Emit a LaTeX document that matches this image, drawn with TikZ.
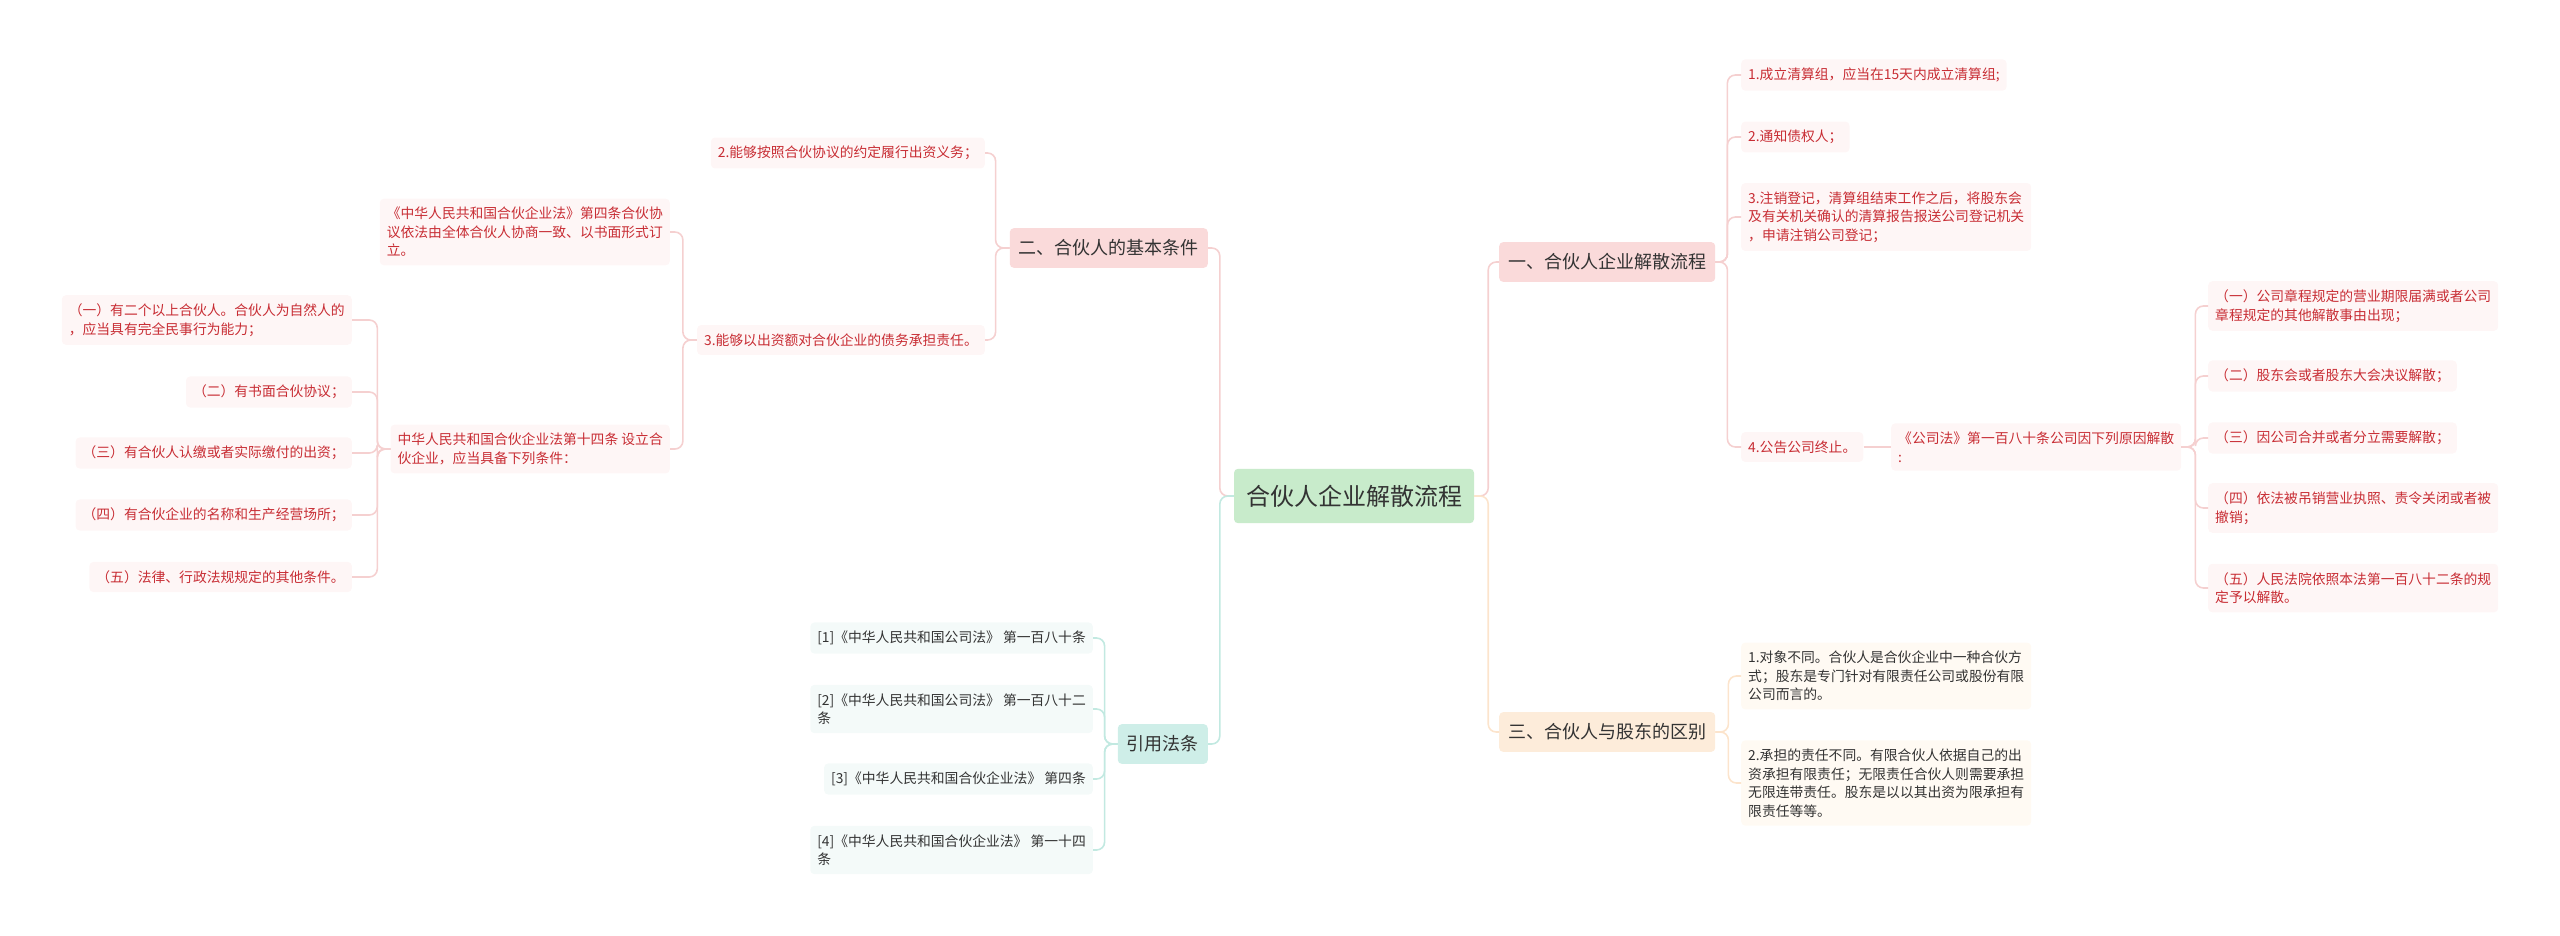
\documentclass[tikz,border=0pt]{standalone}
\usepackage{fontspec}
\setmainfont{Noto Sans CJK SC}
\usepackage{xcolor}
\usepackage{tikz}
\definecolor{rootgreen}{RGB}{200,235,203}
\definecolor{topicpink}{RGB}{250,218,218}
\definecolor{topicpeach}{RGB}{253,236,218}
\definecolor{topicmint}{RGB}{206,238,232}
\definecolor{faintpink}{RGB}{254,246,246}
\definecolor{faintpeach}{RGB}{255,250,243}
\definecolor{faintmint}{RGB}{244,250,249}
\definecolor{linkpink}{RGB}{245,208,208}
\definecolor{linkpeach}{RGB}{252,228,204}
\definecolor{linkmint}{RGB}{194,233,225}
\definecolor{textred}{RGB}{200,45,52}
\definecolor{textdark}{RGB}{51,51,51}
\newcommand{\leaffont}{\fontsize{13.8}{18.5}\selectfont}

\begin{document}
\begin{tikzpicture}[
      x=1pt, y=-1pt,
      root/.style={rounded corners=4pt, fill=rootgreen, text=textdark, inner xsep=12pt, inner ysep=16pt, font=\fontsize{24}{28}\selectfont},
      topic/.style={rounded corners=4pt, text=textdark, inner xsep=9pt, inner ysep=11.5pt, font=\fontsize{18}{22}\selectfont},
      leaf/.style={rounded corners=4pt, align=left, inner xsep=7pt, inner ysep=8.5pt, font=\leaffont},
      redleaf/.style={leaf, fill=faintpink, text=textred},
      peachleaf/.style={leaf, fill=faintpeach, text=textdark},
      mintleaf/.style={leaf, fill=faintmint, text=textdark},
      link/.style={line width=1.6pt, rounded corners=8pt},
      linkp/.style={link, draw=linkpink},
      linko/.style={link, draw=linkpeach},
      linkm/.style={link, draw=linkmint}
    ]
      \useasboundingbox (0,0) rectangle (2560,935);

      % centre and main topics
      \node[root] (root) at (1354,496) {合伙人企业解散流程};
      \node[topic, fill=topicpink, anchor=west] (one) at (1499,262) {一、合伙人企业解散流程};
      \node[topic, fill=topicpeach, anchor=west] (three) at (1499,732) {三、合伙人与股东的区别};
      \node[topic, fill=topicpink, anchor=east] (two) at (1208,248) {二、合伙人的基本条件};
      \node[topic, fill=topicmint, anchor=east] (cite) at (1208,744) {引用法条};

      % 一
      \node[redleaf, anchor=west] (a1) at (1741,75) {1.成立清算组，应当在15天内成立清算组;};
      \node[redleaf, anchor=west] (a2) at (1741,137) {2.通知债权人；};
      \node[redleaf, anchor=west] (a3) at (1741,217) {3.注销登记，清算组结束工作之后，将股东会\\及有关机关确认的清算报告报送公司登记机关\\，申请注销公司登记；};
      \node[redleaf, anchor=west] (a4) at (1741,447) {4.公告公司终止。};
      \node[redleaf, anchor=west] (law) at (1891,447) {《公司法》第一百八十条公司因下列原因解散\\:};
      \node[redleaf, anchor=west] (r1) at (2208,306) {（一）公司章程规定的营业期限届满或者公司\\章程规定的其他解散事由出现；};
      \node[redleaf, anchor=west] (r2) at (2208,376) {（二）股东会或者股东大会决议解散；};
      \node[redleaf, anchor=west] (r3) at (2208,438) {（三）因公司合并或者分立需要解散；};
      \node[redleaf, anchor=west] (r4) at (2208,508) {（四）依法被吊销营业执照、责令关闭或者被\\撤销；};
      \node[redleaf, anchor=west] (r5) at (2208,588) {（五）人民法院依照本法第一百八十二条的规\\定予以解散。};

      % 三
      \node[peachleaf, anchor=west] (d1) at (1741,676) {1.对象不同。合伙人是合伙企业中一种合伙方\\式；股东是专门针对有限责任公司或股份有限\\公司而言的。};
      \node[peachleaf, anchor=west] (d2) at (1741,783) {2.承担的责任不同。有限合伙人依据自己的出\\资承担有限责任；无限责任合伙人则需要承担\\无限连带责任。股东是以以其出资为限承担有\\限责任等等。};

      % 二
      \node[redleaf, anchor=east] (b2) at (985,153) {2.能够按照合伙协议的约定履行出资义务；};
      \node[redleaf, anchor=east] (b3) at (985,340) {3.能够以出资额对合伙企业的债务承担责任。};
      \node[redleaf, anchor=east] (c1) at (670,232) {《中华人民共和国合伙企业法》第四条合伙协\\议依法由全体合伙人协商一致、以书面形式订\\立。};
      \node[redleaf, anchor=east] (c2) at (670,449) {中华人民共和国合伙企业法第十四条 设立合\\伙企业，应当具备下列条件：};
      \node[redleaf, anchor=east] (e1) at (352,320) {（一）有二个以上合伙人。合伙人为自然人的\\，应当具有完全民事行为能力；};
      \node[redleaf, anchor=east] (e2) at (352,392) {（二）有书面合伙协议；};
      \node[redleaf, anchor=east] (e3) at (352,453) {（三）有合伙人认缴或者实际缴付的出资；};
      \node[redleaf, anchor=east] (e4) at (352,515) {（四）有合伙企业的名称和生产经营场所；};
      \node[redleaf, anchor=east] (e5) at (352,577) {（五）法律、行政法规规定的其他条件。};

      % 引用法条
      \node[mintleaf, anchor=east] (f1) at (1093,638) {[1]《中华人民共和国公司法》 第一百八十条};
      \node[mintleaf, anchor=east] (f2) at (1093,709) {[2]《中华人民共和国公司法》 第一百八十二\\条};
      \node[mintleaf, anchor=east] (f3) at (1093,779) {[3]《中华人民共和国合伙企业法》 第四条};
      \node[mintleaf, anchor=east] (f4) at (1093,850) {[4]《中华人民共和国合伙企业法》 第一十四\\条};

      % connectors
      \draw[linkp] (root.east) -- ++(14,0) |- (one.west);
      \draw[linko] (root.east) -- ++(14,0) |- (three.west);
      \draw[linkp] (root.west) -- ++(-14,0) |- (two.east);
      \draw[linkm] (root.west) -- ++(-14,0) |- (cite.east);

      \draw[linkp] (one.east) -- ++(12,0) |- (a1.west);
      \draw[linkp] (one.east) -- ++(12,0) |- (a2.west);
      \draw[linkp] (one.east) -- ++(12,0) |- (a3.west);
      \draw[linkp] (one.east) -- ++(12,0) |- (a4.west);
      \draw[linkp] (a4.east) -- (law.west);
      \draw[linkp] (law.east) -- ++(14,0) |- (r1.west);
      \draw[linkp] (law.east) -- ++(14,0) |- (r2.west);
      \draw[linkp] (law.east) -- ++(14,0) |- (r3.west);
      \draw[linkp] (law.east) -- ++(14,0) |- (r4.west);
      \draw[linkp] (law.east) -- ++(14,0) |- (r5.west);

      \draw[linko] (three.east) -- ++(13,0) |- (d1.west);
      \draw[linko] (three.east) -- ++(13,0) |- (d2.west);

      \draw[linkp] (two.west) -- ++(-14,0) |- (b2.east);
      \draw[linkp] (two.west) -- ++(-14,0) |- (b3.east);
      \draw[linkp] (b3.west) -- ++(-14,0) |- (c1.east);
      \draw[linkp] (b3.west) -- ++(-14,0) |- (c2.east);
      \draw[linkp] (c2.west) -- ++(-13,0) |- (e1.east);
      \draw[linkp] (c2.west) -- ++(-13,0) |- (e2.east);
      \draw[linkp] (c2.west) -- ++(-13,0) |- (e3.east);
      \draw[linkp] (c2.west) -- ++(-13,0) |- (e4.east);
      \draw[linkp] (c2.west) -- ++(-13,0) |- (e5.east);

      \draw[linkm] (cite.west) -- ++(-13,0) |- (f1.east);
      \draw[linkm] (cite.west) -- ++(-13,0) |- (f2.east);
      \draw[linkm] (cite.west) -- ++(-13,0) |- (f3.east);
      \draw[linkm] (cite.west) -- ++(-13,0) |- (f4.east);
    \end{tikzpicture}
\end{document}
